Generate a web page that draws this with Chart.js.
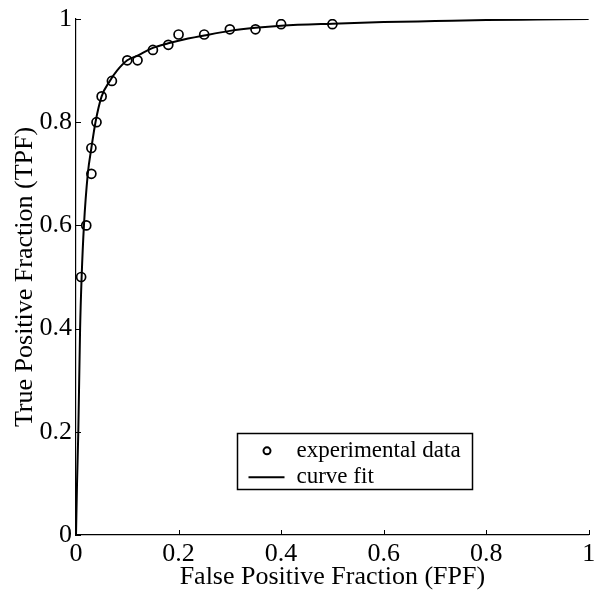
<!DOCTYPE html>
<html>
<head>
<meta charset="utf-8">
<script src="https://cdn.jsdelivr.net/npm/chart.js@4/dist/chart.umd.min.js"></script>
<style>
html,body{margin:0;padding:0;background:#fff;}
#wrap{width:595px;height:593px;position:relative;}
</style>
</head>
<body>
<div id="wrap"><canvas id="c" width="595" height="593"></canvas></div>
<script>
// experimental data (FPF, TPF)
const expFPF = [0.01, 0.02, 0.03, 0.03, 0.04, 0.05, 0.07, 0.10, 0.12, 0.15, 0.18, 0.20, 0.25, 0.30, 0.35, 0.40, 0.50];
const expTPF = [0.50, 0.60, 0.75, 0.70, 0.80, 0.85, 0.88, 0.92, 0.92, 0.94, 0.95, 0.97, 0.97, 0.98, 0.98, 0.99, 0.99];
// curve fit
const fitFPF = [0, 0.002, 0.0045, 0.008, 0.011, 0.0155, 0.023, 0.03, 0.038, 0.05, 0.066, 0.08, 0.10, 0.12, 0.15, 0.18, 0.20, 0.25, 0.30, 0.35, 0.40, 0.50, 0.60, 0.70, 0.80, 0.90, 1.0];
const fitTPF = [0, 0.10, 0.20, 0.40, 0.50, 0.60, 0.70, 0.75, 0.80, 0.85, 0.88, 0.90, 0.92, 0.929, 0.944, 0.953, 0.958, 0.968, 0.977, 0.983, 0.987, 0.991, 0.994, 0.996, 0.998, 0.999, 1.0];
const xTickLabels = ['0', '0.2', '0.4', '0.6', '0.8', '1'];
const yTickLabels = ['0', '0.2', '0.4', '0.6', '0.8', '1'];
const seriesNames = ['experimental data', 'curve fit'];
const xTitle = 'False Positive Fraction (FPF)';
const yTitle = 'True Positive Fraction (TPF)';

const FONT = "'Liberation Serif', 'Times New Roman', serif";

const expPoints = expFPF.map((x, i) => ({x: x, y: expTPF[i]}));
const fitPoints = fitFPF.map((x, i) => ({x: x, y: fitTPF[i]}));

const inwardTicks = {
  id: 'inwardTicks',
  afterDatasetsDraw(chart) {
    const ctx = chart.ctx;
    const xs = chart.scales.x, ys = chart.scales.y;
    const ca = chart.chartArea;
    ctx.save();
    ctx.strokeStyle = '#000';
    ctx.lineWidth = 1;
    xs.ticks.forEach(t => {
      const px = Math.round(xs.getPixelForValue(t.value)) + 0.5;
      ctx.beginPath(); ctx.moveTo(px, ca.bottom); ctx.lineTo(px, ca.bottom - 5); ctx.stroke();
    });
    ys.ticks.forEach(t => {
      const py = Math.round(ys.getPixelForValue(t.value)) + 0.5;
      ctx.beginPath(); ctx.moveTo(ca.left, py); ctx.lineTo(ca.left + 5, py); ctx.stroke();
    });
    ctx.restore();
  }
};

const boxLegend = {
  id: 'boxLegend',
  afterDraw(chart) {
    const ctx = chart.ctx;
    const xs = chart.scales.x, ys = chart.scales.y;
    const left = Math.round(xs.getPixelForValue(0.313)) + 0.5;
    const right = Math.round(xs.getPixelForValue(0.772)) + 0.5;
    const top = Math.round(ys.getPixelForValue(0.198)) + 0.5;
    const bottom = Math.round(ys.getPixelForValue(0.089)) + 0.5;
    ctx.save();
    ctx.fillStyle = '#fff';
    ctx.fillRect(left, top, right - left, bottom - top);
    ctx.strokeStyle = '#000';
    ctx.lineWidth = 1.5;
    ctx.strokeRect(left, top, right - left, bottom - top);
    const h = bottom - top;
    const r1 = top + h * 0.31, r2 = top + h * 0.78;
    // marker
    ctx.lineWidth = 2;
    ctx.beginPath(); ctx.arc(left + 29.5, r1, 3.5, 0, Math.PI * 2); ctx.stroke();
    // line
    ctx.lineWidth = 2;
    ctx.beginPath(); ctx.moveTo(left + 11, r2); ctx.lineTo(left + 47, r2); ctx.stroke();
    ctx.fillStyle = '#000';
    ctx.font = '23px ' + FONT;
    ctx.textBaseline = 'middle';
    ctx.textAlign = 'left';
    ctx.fillText(seriesNames[0], left + 59, r1);
    ctx.fillText(seriesNames[1], left + 59, r2);
    ctx.restore();
  }
};

new Chart(document.getElementById('c'), {
  type: 'scatter',
  data: {
    datasets: [
      {
        label: seriesNames[0],
        data: expPoints,
        showLine: false,
        pointStyle: 'circle',
        pointRadius: 4.5,
        pointBorderWidth: 1.7,
        pointBorderColor: '#000',
        pointBackgroundColor: 'rgba(0,0,0,0)',
        borderColor: '#000'
      },
      {
        label: seriesNames[1],
        data: fitPoints,
        showLine: true,
        pointRadius: 0,
        borderColor: '#000',
        borderWidth: 2,
        cubicInterpolationMode: 'monotone',
        fill: false
      }
    ]
  },
  options: {
    responsive: false,
    animation: false,
    layout: {padding: {top: 19, right: 2, left: 0, bottom: 0}},
    plugins: {legend: {display: false}, tooltip: {enabled: false}},
    scales: {
      x: {
        type: 'linear',
        min: 0, max: 1,
        afterFit(s) { s.height = 58; s.paddingLeft = 0; s.paddingRight = 0; },
        grid: {display: true, drawOnChartArea: false, drawTicks: false},
        border: {display: true, color: '#000', width: 1.2},
        ticks: {
          stepSize: 0.2,
          padding: 4,
          color: '#000',
          font: {family: FONT, size: 26},
          maxRotation: 0,
          callback: (v, i) => xTickLabels[i]
        },
        title: {display: true, text: xTitle, color: '#000', font: {family: FONT, size: 26}, padding: {top: 0, bottom: 0}}
      },
      y: {
        type: 'linear',
        min: 0, max: 1,
        afterFit(s) { s.width = 76; s.paddingTop = 0; s.paddingBottom = 0; },
        grid: {display: true, drawOnChartArea: false, drawTicks: false},
        border: {display: true, color: '#000', width: 1.2},
        ticks: {
          stepSize: 0.2,
          padding: 4,
          color: '#000',
          font: {family: FONT, size: 26},
          callback: (v, i) => yTickLabels[i]
        },
        title: {display: true, text: yTitle, color: '#000', font: {family: FONT, size: 26}, padding: {top: 9.5, bottom: 0}}
      }
    }
  },
  plugins: [inwardTicks, boxLegend]
});
</script>
</body>
</html>
